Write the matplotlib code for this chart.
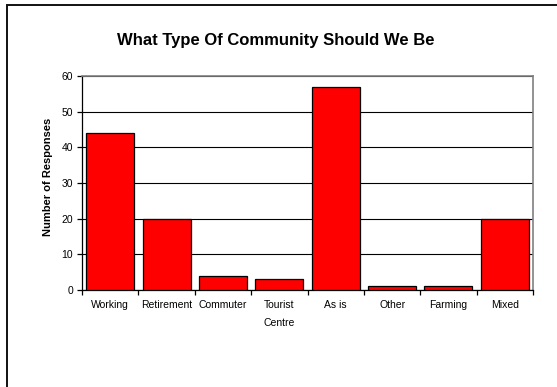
import matplotlib
matplotlib.use("Agg")
import matplotlib.pyplot as plt
from matplotlib.patches import Rectangle
from matplotlib.ticker import MultipleLocator, FixedLocator

categories = ["Working", "Retirement", "Commuter", "Tourist\nCentre",
              "As is", "Other", "Farming", "Mixed"]
responses = [44, 20, 4, 3, 57, 1, 1, 20]
y_ticks = [0, 10, 20, 30, 40, 50, 60]

plt.rcParams["font.family"] = ["Liberation Sans", "DejaVu Sans"]

W, H = 557, 387
fig = plt.figure(figsize=(W / 100, H / 100), dpi=100)
fig.patch.set_facecolor("white")

# outer chart frame (runs off the right and bottom edges)
fig.patches.append(Rectangle((7 / W, -0.2), 1.2, 1.2 - 5 / H,
                             transform=fig.transFigure, fill=False,
                             edgecolor="#111111", linewidth=1.4))

ax = fig.add_axes([82 / W, 1 - 290 / H, (533 - 82) / W, (290 - 76) / H])
x = list(range(len(categories)))
ax.bar(x, responses, width=0.85, color="#FF0000", edgecolor="black",
       linewidth=0.9, zorder=3)

ax.set_xlim(-0.5, len(categories) - 0.5)
ax.set_ylim(0, 60)
ax.yaxis.set_major_locator(FixedLocator(y_ticks))
ax.set_yticklabels([str(v) for v in y_ticks])
ax.yaxis.grid(True, color="black", linewidth=0.8, zorder=0)
ax.set_axisbelow(True)

ax.set_xticks(x)
ax.set_xticklabels(categories, fontsize=7.5, linespacing=2.0)
ax.xaxis.set_minor_locator(MultipleLocator(1, offset=0.5))
ax.tick_params(axis="x", which="major", length=0, pad=7)
ax.tick_params(axis="x", which="minor", length=3.5, width=0.9, direction="out")
ax.tick_params(axis="y", labelsize=7.5, length=3.5, width=0.9, pad=3)

for side in ("left", "bottom"):
    ax.spines[side].set_color("black")
    ax.spines[side].set_linewidth(0.9)
for side in ("top", "right"):
    ax.spines[side].set_color("#808080")
    ax.spines[side].set_linewidth(1.2)

ax.set_ylabel("Number of Responses", fontsize=8, fontweight="bold")
ax.yaxis.set_label_coords(-0.064, 0.53)

fig.text(276 / W, 1 - 40 / H, "What Type Of Community Should We Be",
         ha="center", va="center", fontsize=12, fontweight="bold")

fig.savefig("out.png", dpi=100)
